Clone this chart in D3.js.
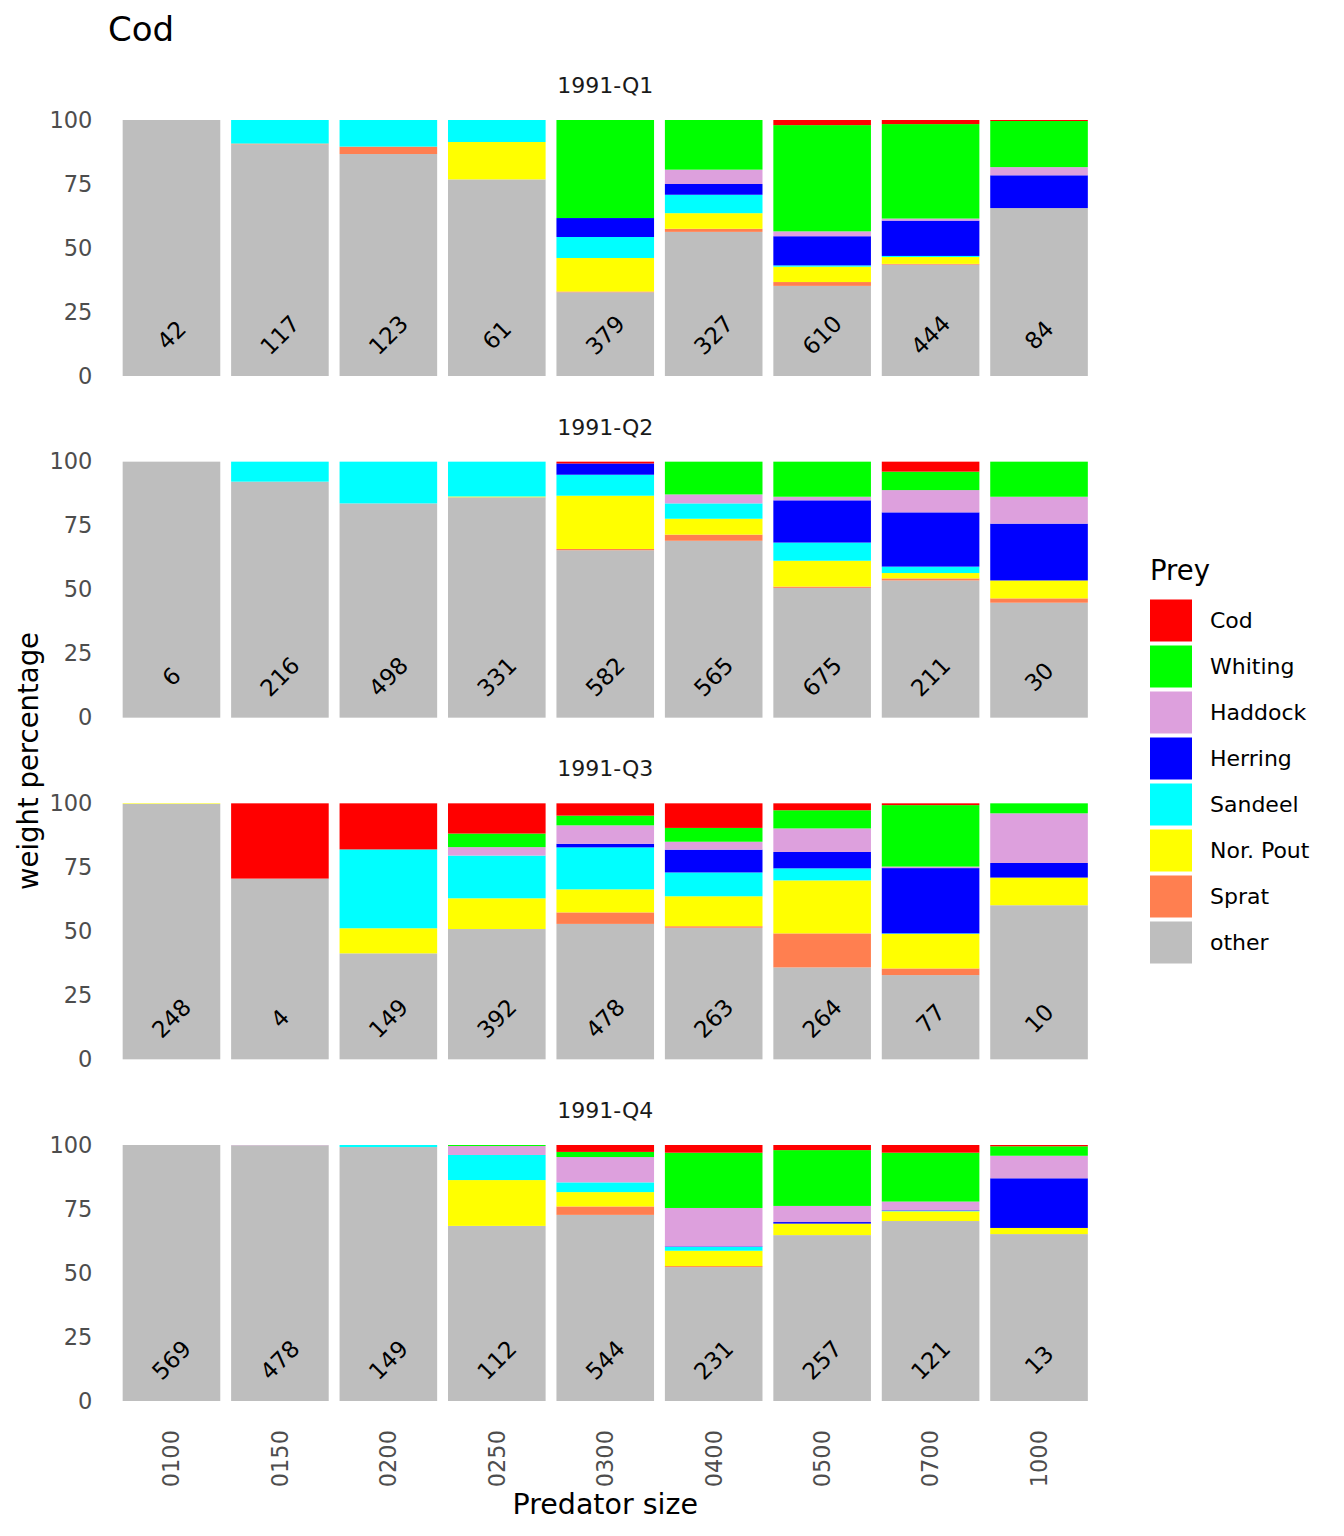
<!DOCTYPE html>
<html>
<head>
<meta charset="utf-8">
<script src="https://cdn.jsdelivr.net/npm/d3@7"></script>
<style>
  body { margin: 0; background: #fff; }
  text { font-family: "DejaVu Sans", sans-serif; }
</style>
</head>
<body>
<svg id="chart" width="1344" height="1536"></svg>
<script>
// ---- data ----
const sizes = ["0100", "0150", "0200", "0250", "0300", "0400", "0500", "0700", "1000"];
const quarters = ["1991-Q1", "1991-Q2", "1991-Q3", "1991-Q4"];
const preyNames = ["Cod", "Whiting", "Haddock", "Herring", "Sandeel", "Nor. Pout", "Sprat", "other"];
const preyColors = ["#FF0000", "#00FF00", "#DDA0DD", "#0000FF", "#00FFFF", "#FFFF00", "#FF7F50", "#BEBEBE"];

// weight percentage per quarter (rows) and predator size (columns)
const cod = [
  [0, 0, 0, 0, 0, 0, 2.0, 1.6, 0.4],
  [0, 0, 0, 0, 0.7, 0, 0, 3.9, 0],
  [0, 29.4, 18.0, 11.8, 4.8, 9.6, 2.7, 0.7, 0],
  [0, 0, 0, 0, 2.7, 3.0, 2.0, 3.0, 0.5]
];
const whiting = [
  [0, 0, 0, 0, 38.3, 19.4, 41.5, 36.9, 18.0],
  [0, 0, 0, 0, 0, 12.8, 13.7, 7.2, 13.7],
  [0, 0, 0, 5.3, 3.8, 5.4, 7.1, 24.0, 3.9],
  [0, 0, 0, 0.4, 2.0, 21.6, 21.8, 19.1, 3.7]
];
const haddock = [
  [0, 0, 0, 0, 0, 5.6, 1.9, 0.8, 3.2],
  [0, 0, 0, 0, 0, 3.5, 1.4, 8.7, 10.5],
  [0, 0, 0, 3.3, 7.2, 3.1, 9.2, 0.6, 19.4],
  [0, 0.1, 0, 3.5, 9.9, 15.0, 6.3, 3.4, 8.8]
];
const herring = [
  [0, 0, 0, 0, 7.4, 4.2, 11.4, 13.8, 12.8],
  [0, 0, 0, 0, 4.4, 0, 16.5, 21.2, 22.2],
  [0, 0, 0, 0, 1.4, 8.9, 6.4, 25.5, 5.7],
  [0, 0, 0, 0, 0, 0.2, 0.6, 0.2, 19.4]
];
const sandeel = [
  [0, 9.2, 10.4, 8.6, 8.2, 7.2, 0.5, 0.4, 0],
  [0, 7.8, 16.3, 13.6, 8.2, 6.0, 7.1, 2.5, 0],
  [0, 0, 30.8, 16.7, 16.4, 9.3, 4.7, 0.2, 0],
  [0, 0, 0.8, 9.8, 3.8, 1.5, 0, 0.2, 0]
];
const norPout = [
  [0, 0, 0, 14.6, 13.1, 6.1, 6.0, 2.7, 0],
  [0, 0, 0, 0.3, 20.8, 6.2, 10.1, 2.1, 7.0],
  [0.2, 0, 9.8, 12.0, 9.0, 11.7, 20.7, 13.5, 10.8],
  [0, 0, 0, 17.9, 5.6, 6.0, 4.5, 3.8, 2.4]
];
const sprat = [
  [0, 0.3, 2.9, 0, 0.3, 1.2, 1.5, 0.3, 0],
  [0, 0, 0, 0, 0.5, 2.4, 0.5, 0.8, 1.7],
  [0, 0, 0, 0, 4.5, 0.6, 13.3, 2.6, 0],
  [0, 0, 0, 0, 3.3, 0.4, 0, 0, 0]
];
const other = [
  [100, 90.5, 86.7, 76.8, 32.7, 56.3, 35.2, 43.5, 65.6],
  [100, 92.2, 83.7, 86.1, 65.4, 69.1, 50.7, 53.6, 44.9],
  [99.8, 70.6, 41.4, 50.9, 52.9, 51.4, 35.9, 32.9, 60.2],
  [100, 99.9, 99.2, 68.4, 72.7, 52.3, 64.8, 70.3, 65.2]
];
// number of stomachs shown in each bar
const nStomachs = [
  [42, 117, 123, 61, 379, 327, 610, 444, 84],
  [6, 216, 498, 331, 582, 565, 675, 211, 30],
  [248, 4, 149, 392, 478, 263, 264, 77, 10],
  [569, 478, 149, 112, 544, 231, 257, 121, 13]
];
const yTicks = [0, 25, 50, 75, 100];

// ---- build ----
const seriesByName = {
  "Cod": cod, "Whiting": whiting, "Haddock": haddock, "Herring": herring,
  "Sandeel": sandeel, "Nor. Pout": norPout, "Sprat": sprat, "other": other
};
const stackKeys = preyNames.slice().reverse(); // bottom: other ... top: Cod
const color = d3.scaleOrdinal().domain(preyNames).range(preyColors);

const svg = d3.select("#chart");

const x = d3.scaleBand().domain(sizes).range([106.4, 1104.1])
  .paddingInner(0.1).paddingOuter(0.15);
const panelPos = d3.scaleLinear().domain([0, 3]).range([376, 1401]);

const tickColor = "#4d4d4d";

quarters.forEach((q, qi) => {
  const bottom = panelPos(qi);
  const y = d3.scaleLinear().domain([0, 100]).range([bottom, bottom - 256]);
  const rows = sizes.map((s, si) => {
    const r = { size: s, n: nStomachs[qi][si] };
    preyNames.forEach(p => { r[p] = seriesByName[p][qi][si]; });
    return r;
  });
  const stacked = d3.stack().keys(stackKeys)(rows);
  const g = svg.append("g");

  g.selectAll("g.layer").data(stacked).join("g")
    .attr("class", "layer")
    .attr("fill", d => color(d.key))
    .selectAll("rect").data(d => d).join("rect")
    .attr("x", d => x(d.data.size))
    .attr("width", x.bandwidth())
    .attr("y", d => y(d[1]))
    .attr("height", d => Math.max(0, y(d[0]) - y(d[1])));

  // counts
  g.selectAll("text.count").data(rows).join("text")
    .attr("class", "count")
    .attr("transform", d => `translate(${x(d.size) + x.bandwidth() / 2},${y(16)}) rotate(-45)`)
    .attr("text-anchor", "middle")
    .attr("dy", "0.35em")
    .attr("font-size", 23)
    .attr("fill", "#000")
    .text(d => d.n);

  // strip label
  g.append("text")
    .attr("x", (x.range()[0] + x.range()[1]) / 2)
    .attr("y", y(100) - 27)
    .attr("text-anchor", "middle")
    .attr("font-size", 22)
    .attr("fill", "#1a1a1a")
    .text(q);

  // y axis
  const ya = d3.axisLeft(y).tickValues(yTicks).tickSize(0).tickPadding(14);
  const ag = g.append("g").attr("transform", `translate(106.4,0)`).call(ya);
  ag.select(".domain").remove();
  ag.selectAll("text").attr("font-size", 22.5).attr("fill", tickColor)
    .attr("font-family", "DejaVu Sans");

  if (qi === 3) {
    const xa = d3.axisBottom(x).tickSize(0);
    const xg = g.append("g").attr("transform", `translate(0,${bottom})`).call(xa);
    xg.select(".domain").remove();
    xg.selectAll("text")
      .attr("font-size", 22.5).attr("fill", tickColor).attr("font-family", "DejaVu Sans")
      .attr("transform", "translate(0,29) rotate(-90)")
      .attr("text-anchor", "end")
      .attr("x", 0).attr("y", 0).attr("dy", "0.35em");
  }
});

// title
svg.append("text").attr("x", 108).attr("y", 41)
  .attr("font-size", 34).attr("fill", "#000").text("Cod");

// axis titles
svg.append("text").attr("x", (x.range()[0] + x.range()[1]) / 2).attr("y", 1514)
  .attr("text-anchor", "middle").attr("font-size", 28.5).attr("fill", "#000")
  .text("Predator size");
svg.append("text").attr("transform", "translate(38,761) rotate(-90)")
  .attr("text-anchor", "middle").attr("font-size", 27.5).attr("fill", "#000")
  .text("weight percentage");

// legend
const lg = svg.append("g").attr("transform", "translate(1150,0)");
lg.append("text").attr("x", 0).attr("y", 580).attr("font-size", 27.5).attr("fill", "#000").text("Prey");
const items = lg.selectAll("g.item").data(preyNames).join("g").attr("class", "item")
  .attr("transform", (d, i) => `translate(0,${599.5 + i * 46})`);
items.append("rect").attr("width", 42).attr("height", 42).attr("fill", d => color(d));
items.append("text").attr("x", 60).attr("y", 21).attr("dy", "0.35em")
  .attr("font-size", 22).attr("fill", "#000").text(d => d);
</script>
</body>
</html>
